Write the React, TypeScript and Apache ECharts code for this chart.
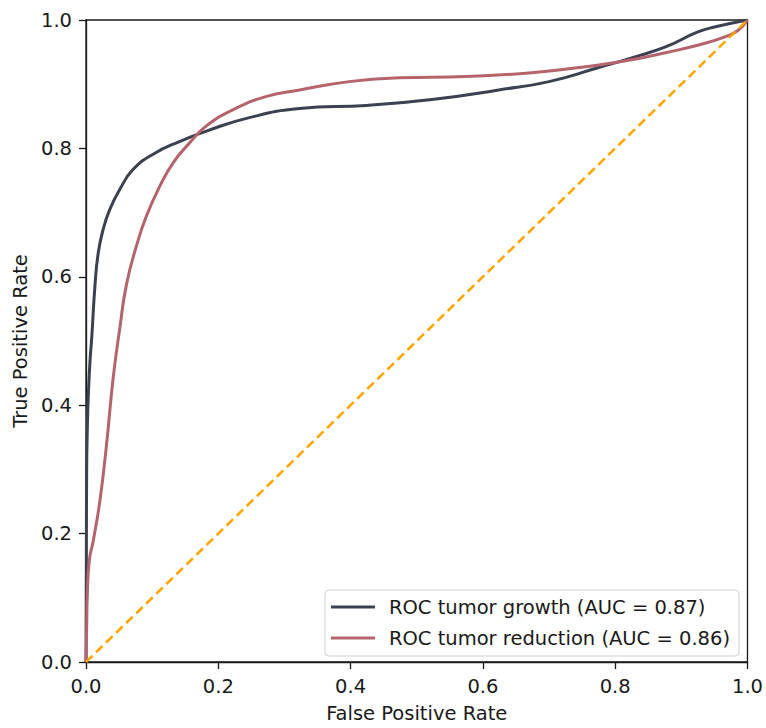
import React, { useEffect, useRef } from "react";
import * as echarts from "echarts";

const growthFPR = [0, 0.0005, 0.001, 0.002, 0.0035, 0.006, 0.0086, 0.0136, 0.0186, 0.026, 0.036, 0.051, 0.071, 0.1015, 0.142, 0.182, 0.247, 0.323, 0.424, 0.523, 0.624, 0.7, 0.775, 0.825, 0.876, 0.924, 0.95, 1];
const growthTPR = [0, 0.15, 0.3, 0.364, 0.416, 0.468, 0.504, 0.587, 0.638, 0.674, 0.705, 0.736, 0.767, 0.791, 0.811, 0.827, 0.848, 0.862, 0.867, 0.876, 0.891, 0.904, 0.926, 0.941, 0.958, 0.981, 0.989, 1];

const reductionFPR = [0, 0.001, 0.002, 0.005, 0.011, 0.021, 0.031, 0.041, 0.051, 0.061, 0.0765, 0.0915, 0.112, 0.132, 0.157, 0.182, 0.222, 0.273, 0.323, 0.398, 0.474, 0.575, 0.674, 0.775, 0.825, 0.876, 0.926, 0.967, 0.986, 1];
const reductionTPR = [0, 0.054, 0.105, 0.158, 0.189, 0.251, 0.338, 0.442, 0.519, 0.587, 0.649, 0.695, 0.742, 0.778, 0.809, 0.835, 0.86, 0.881, 0.891, 0.904, 0.91, 0.912, 0.918, 0.93, 0.938, 0.949, 0.961, 0.974, 0.984, 1];

const chanceFPR = [0, 1];
const chanceTPR = [0, 1];

const seriesNames = ["ROC tumor growth (AUC = 0.87)", "ROC tumor reduction (AUC = 0.86)"];

const zip = (a: number[], b: number[]) => a.map((v, i) => [v, b[i]]);

export default function App() {
  const ref = useRef<HTMLDivElement>(null);
  useEffect(() => {
    if (!ref.current) return;
    const chart = echarts.init(ref.current, null, { renderer: "svg" });
    const font = "DejaVu Sans";
    const ink = "#1a1a1a";
    const fs = 19.5;
    chart.setOption({
      animation: false,
      textStyle: { fontFamily: font },
      grid: {
        left: 86,
        right: 17,
        top: 20,
        bottom: 63,
        show: true,
        borderColor: ink,
        borderWidth: 1.3,
        backgroundColor: "transparent",
      },
      legend: {
        data: seriesNames,
        orient: "vertical",
        right: 27,
        bottom: 72,
        itemWidth: 44,
        itemHeight: 3,
        itemGap: 11,
        icon: "rect",
        backgroundColor: "#fff",
        borderColor: "#d0d0d0",
        borderWidth: 1,
        borderRadius: 4,
        padding: [7, 9, 8, 6],
        textStyle: { fontFamily: font, fontSize: fs, color: ink, padding: [0, 0, 0, 9] },
      },
      xAxis: {
        type: "value",
        min: 0,
        max: 1,
        interval: 0.2,
        name: "False Positive Rate",
        nameLocation: "middle",
        nameGap: 41,
        nameTextStyle: { fontFamily: font, fontSize: fs, color: ink },
        axisLine: { show: true, lineStyle: { color: ink, width: 1.3 } },
        axisTick: { show: true, length: 7, lineStyle: { color: ink, width: 1.3 } },
        axisLabel: { fontFamily: font, fontSize: fs, color: ink, margin: 14, formatter: (v: number) => v.toFixed(1) },
        splitLine: { show: false },
      },
      yAxis: {
        type: "value",
        min: 0,
        max: 1,
        interval: 0.2,
        name: "True Positive Rate",
        nameLocation: "middle",
        nameGap: 53,
        nameRotate: 90,
        nameTextStyle: { fontFamily: font, fontSize: fs, color: ink },
        axisLine: { show: true, lineStyle: { color: ink, width: 1.3 } },
        axisTick: { show: true, length: 7, lineStyle: { color: ink, width: 1.3 } },
        axisLabel: { fontFamily: font, fontSize: fs, color: ink, margin: 14, formatter: (v: number) => v.toFixed(1) },
        splitLine: { show: false },
      },
      series: [
        {
          name: seriesNames[0],
          type: "line",
          data: zip(growthFPR, growthTPR),
          showSymbol: false,
          smooth: 0.5,
          lineStyle: { color: "#3b4150", width: 3 },
          itemStyle: { color: "#3b4150" },
        },
        {
          name: seriesNames[1],
          type: "line",
          data: zip(reductionFPR, reductionTPR),
          showSymbol: false,
          smooth: 0.5,
          lineStyle: { color: "#b5646c", width: 3 },
          itemStyle: { color: "#b5646c" },
        },
        {
          name: "chance",
          type: "line",
          data: zip(chanceFPR, chanceTPR),
          showSymbol: false,
          lineStyle: { color: "#FFA500", width: 2.5, type: [9, 5] },
          itemStyle: { color: "#FFA500" },
        },
      ],
    });
    return () => chart.dispose();
  }, []);
  return <div ref={ref} style={{ width: 766, height: 728, position: "absolute", left: 0, top: 0 }} />;
}
